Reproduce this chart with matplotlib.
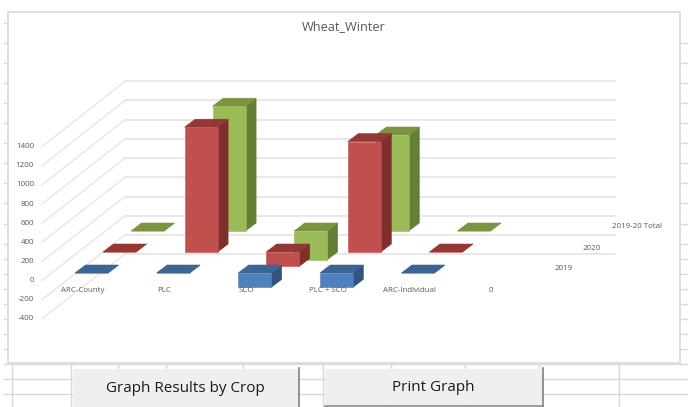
import numpy as np
import matplotlib
matplotlib.use("Agg")
import matplotlib.pyplot as plt
from matplotlib.patches import Polygon, Rectangle

plt.rcParams['font.family'] = ['Open Sans', 'DejaVu Sans']

# Chart data
categories = ["ARC-County", "PLC", "SCO", "PLC + SCO", "ARC-Individual", "0"]
series_names = ["2019", "2020", "2019-20 Total"]
values_2019 = [0, 0, -150, -150, 0]
values_2020 = [0, 1300, -150, 1150, 0]
values_total = [0, 1300, -300, 1000, 0]
value_ticks = [-400, -200, 0, 200, 400, 600, 800, 1000, 1200, 1400]

# Spreadsheet rows and columns behind the chart
row_lines_upper = [23, 43, 63, 83, 103, 123, 143, 163, 183, 203, 224, 244]
row_lines_lower = [259, 274, 289, 304, 319, 334, 349]
row_lines_below = [364, 379, 394]
col_lines_below = [11.5, 70.5, 118, 166, 243, 323, 391, 465, 539, 619]

GRID = "#e8e8e8"
CELL = "#d9d9d9"
TEXT = "#595959"

# Oblique projection of the 3D column chart, in pixels
PX_PER_UNIT = 0.096
CAT_STEP = 81.6
SERIES_DX, SERIES_DY = 28, -21
BAR_W = 33
BAR_DX, BAR_DY = 10.5, -8
ORIGIN_X, ORIGIN_Y = 75, 273
WALL_FRONT_X, WALL_BACK_X, WALL_RIGHT_X = 42, 125, 615
WALL_FRONT_ZERO, WALL_BACK_ZERO = 280.5, 215.7


def draw_bar(ax, cat, ser, value, front, top, side):
    x = ORIGIN_X + cat * CAT_STEP + ser * SERIES_DX
    base = ORIGIN_Y + ser * SERIES_DY
    y1 = base - value * PX_PER_UNIT
    hi, lo = min(base, y1), max(base, y1)
    ax.add_patch(Polygon([(x + BAR_W, hi), (x + BAR_W + BAR_DX, hi + BAR_DY),
                          (x + BAR_W + BAR_DX, lo + BAR_DY), (x + BAR_W, lo)],
                         fc=side, ec=side, lw=0.4, zorder=4))
    ax.add_patch(Polygon([(x, hi), (x + BAR_DX, hi + BAR_DY),
                          (x + BAR_W + BAR_DX, hi + BAR_DY), (x + BAR_W, hi)],
                         fc=top, ec=top, lw=0.4, zorder=4))
    ax.add_patch(Rectangle((x, hi), BAR_W, lo - hi, fc=front, ec=front, lw=0.4, zorder=4))


fig = plt.figure(figsize=(6.88, 4.07), dpi=100)
ax = fig.add_axes([0, 0, 1, 1])
ax.set_xlim(0, 688)
ax.set_ylim(407, 0)
ax.axis("off")

# Sheet cells around the chart area
for y in row_lines_upper + row_lines_lower:
    ax.plot([4, 8], [y, y], color=CELL, lw=1, zorder=1)
    if y > 30:
        ax.plot([680, 688], [y, y], color=CELL, lw=1, zorder=1)
for y in row_lines_below:
    ax.plot([4, 688], [y, y], color=CELL, lw=1, zorder=1)
for x in col_lines_below:
    ax.plot([x, x], [364, 407], color=CELL, lw=1, zorder=1)

# Chart area
ax.add_patch(Rectangle((7.5, 11.5), 672.5, 351, fc="white", ec="#d9d9d9", lw=1.2, zorder=2))
ax.text(344, 27, "Wheat_Winter", ha="center", va="center", fontsize=9.2, color=TEXT, zorder=6)

# Walls
for v in value_ticks:
    y_front = WALL_FRONT_ZERO - v * 0.0956
    y_back = WALL_BACK_ZERO - v * PX_PER_UNIT
    ax.plot([WALL_FRONT_X, WALL_BACK_X], [y_front, y_back], color=GRID, lw=1.1, zorder=3)
    ax.plot([WALL_BACK_X, WALL_RIGHT_X], [y_back, y_back], color=GRID, lw=1.4, zorder=3)
    ax.text(34, y_front, str(v), ha="right", va="center", fontsize=5.8, color=TEXT, zorder=6)

# Columns, back row first
rows = [
    (2, values_total, "#9bbb59", "#7a9440", "#667f38"),
    (1, values_2020, "#c0504d", "#953735", "#7e2f2d"),
    (0, values_2019, "#4f81bd", "#3a6595", "#30537f"),
]
for ser, vals, front, top, side in rows:
    for cat, v in enumerate(vals):
        draw_bar(ax, cat, ser, v, front, top, side)

# Axis labels
for i, name in enumerate(categories):
    cx = ORIGIN_X + i * CAT_STEP + 8
    ax.text(cx, 291, name, ha="center", va="center", fontsize=5.7, color=TEXT, zorder=6)
for ser, name in enumerate(series_names):
    x = 564 + ser * 28 + (17 if ser == 2 else 0)
    ax.text(x, 269 + ser * SERIES_DY, name, ha="center", va="center",
            fontsize=5.7, color=TEXT, zorder=6)

# Buttons under the chart
ax.add_patch(Rectangle((73, 369), 225, 38, fc="#efefef", ec="none", zorder=5))
ax.plot([298.5, 298.5], [368, 407], color="#7f7f7f", lw=1.2, zorder=5)
ax.text(185, 388, "Graph Results by Crop", ha="center", va="center",
        fontsize=11, color="#1a1a1a", zorder=6)

ax.add_patch(Rectangle((325, 369), 217, 37, fc="#efefef", ec="none", zorder=5))
ax.plot([542.5, 542.5], [368, 407], color="#7f7f7f", lw=1.2, zorder=5)
ax.plot([325, 543], [406.3, 406.3], color="#8c8c8c", lw=1.2, zorder=5)
ax.text(433, 387.5, "Print Graph", ha="center", va="center",
        fontsize=11, color="#1a1a1a", zorder=6)

fig.savefig("out.png", dpi=100)
